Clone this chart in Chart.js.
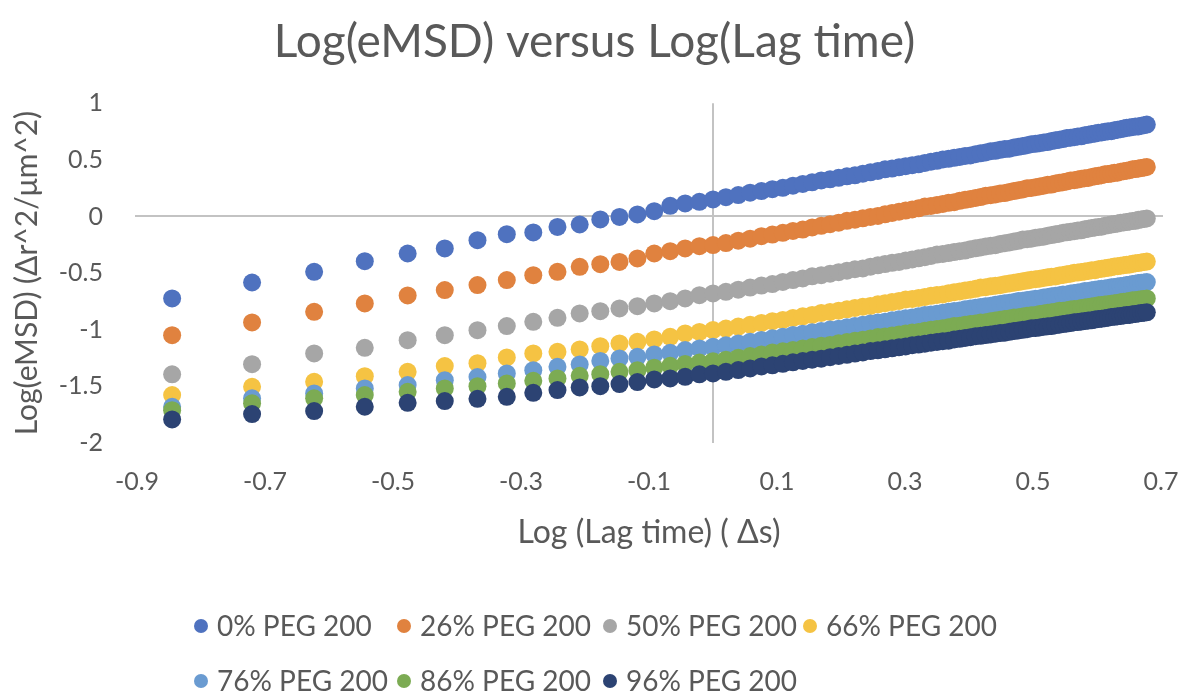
<!DOCTYPE html>
<html>
<head>
<meta charset="utf-8">
<title>Log(eMSD) versus Log(Lag time)</title>
<script src="https://cdn.jsdelivr.net/npm/chart.js@4.4.1/dist/chart.umd.min.js"></script>
<style>
  html, body { margin: 0; padding: 0; background: #fff; }
</style>
</head>
<body>
<canvas id="grafico" width="1183" height="695"></canvas>
<script>
// log10 of the lag time (s), one entry per lag
var lagLog = [
  -0.8451, -0.7202, -0.6232, -0.5441, -0.4771, -0.4191, -0.3680, -0.3222, -0.2808, -0.2430,
  -0.2083, -0.1761, -0.1461, -0.1181, -0.0918, -0.0669, -0.0435, -0.0212, 0.0000, 0.0202,
  0.0395, 0.0580, 0.0757, 0.0928, 0.1091, 0.1249, 0.1402, 0.1549, 0.1691, 0.1829,
  0.1963, 0.2093, 0.2218, 0.2341, 0.2460, 0.2576, 0.2688, 0.2798, 0.2906, 0.3010,
  0.3113, 0.3212, 0.3310, 0.3405, 0.3499, 0.3590, 0.3680, 0.3768, 0.3854, 0.3938,
  0.4021, 0.4102, 0.4181, 0.4260, 0.4337, 0.4412, 0.4486, 0.4559, 0.4631, 0.4702,
  0.4771, 0.4840, 0.4907, 0.4973, 0.5039, 0.5103, 0.5166, 0.5229, 0.5290, 0.5351,
  0.5411, 0.5470, 0.5528, 0.5586, 0.5643, 0.5699, 0.5754, 0.5809, 0.5863, 0.5916,
  0.5969, 0.6021, 0.6072, 0.6123, 0.6173, 0.6223, 0.6272, 0.6320, 0.6368, 0.6416,
  0.6463, 0.6509, 0.6555, 0.6601, 0.6646, 0.6690, 0.6734, 0.6778
];

// log10 of the eMSD for each PEG 200 concentration
var peg0 = [
  -0.724, -0.583, -0.489, -0.395, -0.327, -0.282, -0.209, -0.156, -0.141, -0.092,
  -0.071, -0.026, -0.004, 0.018, 0.047, 0.094, 0.115, 0.129, 0.150, 0.170,
  0.189, 0.210, 0.224, 0.241, 0.253, 0.272, 0.287, 0.301, 0.318, 0.328,
  0.341, 0.354, 0.363, 0.378, 0.390, 0.402, 0.416, 0.423, 0.434, 0.444,
  0.453, 0.460, 0.473, 0.483, 0.491, 0.503, 0.509, 0.518, 0.525, 0.534,
  0.539, 0.550, 0.558, 0.565, 0.576, 0.580, 0.588, 0.595, 0.598, 0.608,
  0.615, 0.622, 0.629, 0.638, 0.641, 0.647, 0.654, 0.657, 0.666, 0.672,
  0.678, 0.683, 0.692, 0.695, 0.700, 0.706, 0.708, 0.717, 0.721, 0.727,
  0.732, 0.740, 0.742, 0.747, 0.752, 0.753, 0.761, 0.766, 0.771, 0.776,
  0.783, 0.785, 0.790, 0.794, 0.795, 0.802, 0.806, 0.811
];
var peg26 = [
  -1.048, -0.936, -0.842, -0.768, -0.697, -0.650, -0.606, -0.562, -0.518, -0.489,
  -0.445, -0.421, -0.401, -0.371, -0.327, -0.306, -0.282, -0.262, -0.253, -0.235,
  -0.214, -0.196, -0.174, -0.160, -0.144, -0.128, -0.116, -0.097, -0.083, -0.068,
  -0.055, -0.038, -0.029, -0.016, -0.004, 0.005, 0.019, 0.031, 0.042, 0.052,
  0.062, 0.072, 0.087, 0.093, 0.102, 0.111, 0.120, 0.126, 0.138, 0.147,
  0.155, 0.163, 0.171, 0.184, 0.188, 0.195, 0.203, 0.207, 0.217, 0.224,
  0.232, 0.239, 0.249, 0.252, 0.259, 0.265, 0.272, 0.279, 0.282, 0.291,
  0.297, 0.303, 0.309, 0.318, 0.320, 0.326, 0.332, 0.338, 0.340, 0.349,
  0.354, 0.359, 0.364, 0.372, 0.374, 0.379, 0.385, 0.387, 0.395, 0.400,
  0.404, 0.409, 0.417, 0.418, 0.423, 0.427, 0.432, 0.437
];
var peg50 = [
  -1.394, -1.304, -1.209, -1.160, -1.092, -1.048, -1.004, -0.968, -0.930, -0.895,
  -0.856, -0.836, -0.812, -0.792, -0.768, -0.748, -0.724, -0.695, -0.680, -0.665,
  -0.646, -0.628, -0.610, -0.597, -0.578, -0.562, -0.547, -0.528, -0.519, -0.505,
  -0.492, -0.479, -0.466, -0.459, -0.443, -0.431, -0.420, -0.409, -0.402, -0.389,
  -0.379, -0.369, -0.359, -0.349, -0.336, -0.331, -0.323, -0.314, -0.306, -0.301,
  -0.289, -0.281, -0.273, -0.265, -0.258, -0.254, -0.243, -0.236, -0.229, -0.222,
  -0.215, -0.204, -0.201, -0.196, -0.189, -0.183, -0.179, -0.170, -0.164, -0.158,
  -0.152, -0.143, -0.140, -0.134, -0.130, -0.124, -0.122, -0.113, -0.108, -0.102,
  -0.097, -0.092, -0.090, -0.082, -0.077, -0.072, -0.067, -0.063, -0.055, -0.053,
  -0.049, -0.044, -0.039, -0.038, -0.030, -0.026, -0.022, -0.017
];
var peg66 = [
  -1.577, -1.504, -1.460, -1.410, -1.372, -1.321, -1.295, -1.245, -1.209, -1.195,
  -1.174, -1.145, -1.121, -1.107, -1.086, -1.063, -1.033, -1.019, -1.003, -0.990,
  -0.972, -0.956, -0.940, -0.924, -0.913, -0.896, -0.882, -0.869, -0.852, -0.843,
  -0.832, -0.820, -0.808, -0.797, -0.790, -0.776, -0.766, -0.756, -0.746, -0.733,
  -0.728, -0.719, -0.710, -0.701, -0.693, -0.688, -0.677, -0.669, -0.662, -0.653,
  -0.646, -0.639, -0.628, -0.625, -0.617, -0.611, -0.607, -0.598, -0.591, -0.585,
  -0.579, -0.572, -0.566, -0.558, -0.554, -0.549, -0.543, -0.537, -0.532, -0.530,
  -0.521, -0.516, -0.510, -0.505, -0.497, -0.495, -0.491, -0.485, -0.481, -0.475,
  -0.474, -0.466, -0.462, -0.457, -0.453, -0.448, -0.441, -0.439, -0.435, -0.430,
  -0.427, -0.425, -0.418, -0.414, -0.410, -0.406, -0.402, -0.398
];
var peg76 = [
  -1.680, -1.606, -1.562, -1.518, -1.489, -1.445, -1.418, -1.386, -1.357, -1.327,
  -1.306, -1.275, -1.253, -1.239, -1.218, -1.204, -1.180, -1.165, -1.151, -1.138,
  -1.121, -1.106, -1.090, -1.076, -1.062, -1.046, -1.036, -1.023, -1.011, -0.999,
  -0.991, -0.977, -0.966, -0.956, -0.946, -0.936, -0.929, -0.917, -0.908, -0.899,
  -0.891, -0.882, -0.871, -0.865, -0.858, -0.850, -0.842, -0.835, -0.831, -0.820,
  -0.813, -0.807, -0.800, -0.793, -0.789, -0.780, -0.773, -0.767, -0.761, -0.756,
  -0.747, -0.744, -0.738, -0.733, -0.727, -0.725, -0.716, -0.710, -0.705, -0.700,
  -0.695, -0.690, -0.688, -0.680, -0.676, -0.671, -0.666, -0.658, -0.657, -0.652,
  -0.648, -0.643, -0.639, -0.637, -0.631, -0.626, -0.622, -0.618, -0.614, -0.612,
  -0.606, -0.602, -0.597, -0.594, -0.588, -0.586, -0.583, -0.579
];
var peg86 = [
  -1.710, -1.650, -1.606, -1.577, -1.548, -1.518, -1.498, -1.474, -1.451, -1.430,
  -1.407, -1.392, -1.372, -1.357, -1.335, -1.318, -1.302, -1.290, -1.278, -1.264,
  -1.247, -1.232, -1.218, -1.200, -1.191, -1.178, -1.165, -1.153, -1.141, -1.134,
  -1.119, -1.109, -1.098, -1.088, -1.078, -1.065, -1.059, -1.050, -1.041, -1.033,
  -1.025, -1.021, -1.009, -1.000, -0.993, -0.986, -0.978, -0.968, -0.964, -0.957,
  -0.950, -0.944, -0.937, -0.934, -0.924, -0.918, -0.912, -0.906, -0.900, -0.892,
  -0.889, -0.883, -0.877, -0.873, -0.870, -0.862, -0.856, -0.851, -0.846, -0.841,
  -0.833, -0.832, -0.827, -0.822, -0.818, -0.816, -0.809, -0.804, -0.800, -0.795,
  -0.791, -0.783, -0.782, -0.778, -0.774, -0.770, -0.766, -0.765, -0.758, -0.754,
  -0.750, -0.746, -0.740, -0.739, -0.735, -0.731, -0.728, -0.724
];
var peg96 = [
  -1.792, -1.745, -1.718, -1.680, -1.645, -1.630, -1.610, -1.592, -1.557, -1.533,
  -1.509, -1.498, -1.480, -1.462, -1.439, -1.430, -1.416, -1.394, -1.386, -1.372,
  -1.356, -1.342, -1.324, -1.314, -1.301, -1.288, -1.276, -1.264, -1.256, -1.242,
  -1.231, -1.221, -1.210, -1.201, -1.188, -1.182, -1.173, -1.164, -1.155, -1.147,
  -1.136, -1.131, -1.123, -1.115, -1.108, -1.101, -1.097, -1.086, -1.080, -1.073,
  -1.066, -1.057, -1.054, -1.047, -1.041, -1.035, -1.029, -1.026, -1.018, -1.012,
  -1.006, -1.001, -0.995, -0.987, -0.985, -0.980, -0.974, -0.970, -0.968, -0.960,
  -0.955, -0.950, -0.946, -0.941, -0.934, -0.932, -0.928, -0.923, -0.919, -0.917,
  -0.910, -0.906, -0.902, -0.898, -0.894, -0.887, -0.886, -0.882, -0.878, -0.874,
  -0.871, -0.869, -0.863, -0.860, -0.856, -0.853, -0.850, -0.846
];

var seriesLabels = ['0% PEG 200', '26% PEG 200', '50% PEG 200', '66% PEG 200',
                    '76% PEG 200', '86% PEG 200', '96% PEG 200'];
var seriesValues = [peg0, peg26, peg50, peg66, peg76, peg86, peg96];
var seriesColors = ['#4f72bf', '#e0823f', '#a6a6a6', '#f5c343', '#6a9bd1', '#7cab53', '#2c4373'];

var fonte = 'Lato, "Noto Sans", sans-serif';
var cinza = '#595959';

// axes that cross at (0, 0), drawn as thin gray lines under the points
var eixosCruzados = {
    id: 'eixosCruzados',
    beforeDatasetsDraw: function (chart) {
        var ctx = chart.ctx;
        var area = chart.chartArea;
        var px = Math.round(chart.scales.x.getPixelForValue(0));
        var py = Math.round(chart.scales.y.getPixelForValue(0));
        ctx.save();
        ctx.strokeStyle = '#c3c3c3';
        ctx.lineWidth = 2;
        ctx.beginPath();
        ctx.moveTo(area.left - 2, py);
        ctx.lineTo(area.right + 2, py);
        ctx.moveTo(px, area.top);
        ctx.lineTo(px, area.bottom);
        ctx.stroke();
        ctx.restore();
    }
};

// legend laid out in fixed columns, two rows
var legenda = {
    id: 'legenda',
    afterDraw: function (chart) {
        var ctx = chart.ctx;
        var cols = [201, 404, 610, 810];
        var rows = [626, 681];
        ctx.save();
        ctx.font = '28px ' + fonte;
        ctx.textBaseline = 'middle';
        chart.data.datasets.forEach(function (ds, i) {
            var cx = cols[i % 4];
            var cy = rows[Math.floor(i / 4)];
            ctx.fillStyle = ds.backgroundColor;
            ctx.beginPath();
            ctx.arc(cx, cy, 7, 0, 2 * Math.PI);
            ctx.fill();
            ctx.fillStyle = cinza;
            ctx.fillText(ds.label, cx + 16, cy + 1);
        });
        ctx.restore();
    }
};

var datasets = [];
for (let i = 0; i < seriesValues.length; i++) {
    datasets.push({
        label: seriesLabels[i],
        data: lagLog.map(function (x, j) { return { x: x, y: seriesValues[i][j] }; }),
        backgroundColor: seriesColors[i],
        borderColor: seriesColors[i],
        pointRadius: 9,
        pointHoverRadius: 9,
        pointBorderWidth: 0,
        order: seriesValues.length - 1 - i
    });
}

Chart.defaults.font.family = fonte;
Chart.defaults.color = cinza;

var canvas = document.getElementById('grafico');
var grafico = new Chart(canvas, {
    type: 'scatter',
    data: { datasets: datasets },
    plugins: [eixosCruzados, legenda],
    options: {
        responsive: false,
        animation: false,
        events: [],
        layout: {
            autoPadding: false,
            padding: { top: 0, left: 28, right: 22, bottom: 143 }
        },
        plugins: {
            legend: { display: false },
            tooltip: { enabled: false },
            title: {
                display: true,
                text: 'Log(eMSD) versus Log(Lag time)',
                color: cinza,
                font: { size: 46, weight: 'normal' },
                padding: { top: 15, bottom: 33 }
            }
        },
        scales: {
            x: {
                type: 'linear',
                min: -0.9,
                max: 0.7,
                ticks: { stepSize: 0.2, padding: 24, color: cinza, font: { size: 25 } },
                grid: { display: false, drawTicks: false },
                border: { display: false },
                title: {
                    display: true,
                    text: 'Log (Lag time) ( Δs)',
                    color: cinza,
                    font: { size: 32 },
                    padding: { top: 0, bottom: 0 }
                },
                afterFit: function (scale) {
                    scale.height = 109;
                    // end labels may overhang into the side margins
                    scale.paddingLeft = 0;
                    scale.paddingRight = 0;
                }
            },
            y: {
                type: 'linear',
                min: -2,
                max: 1,
                ticks: {
                    stepSize: 0.5,
                    padding: 34,
                    color: cinza,
                    font: { size: 25 },
                    callback: function (value) { return String(Math.round(value * 10) / 10); }
                },
                grid: { display: false, drawTicks: false },
                border: { display: false },
                title: {
                    display: true,
                    text: 'Log(eMSD) (Δr^2/μm^2)',
                    color: cinza,
                    font: { size: 30 },
                    padding: { top: -19, bottom: 0 }
                },
                afterFit: function (scale) { scale.width = 109; }
            }
        }
    }
});
</script>
</body>
</html>
